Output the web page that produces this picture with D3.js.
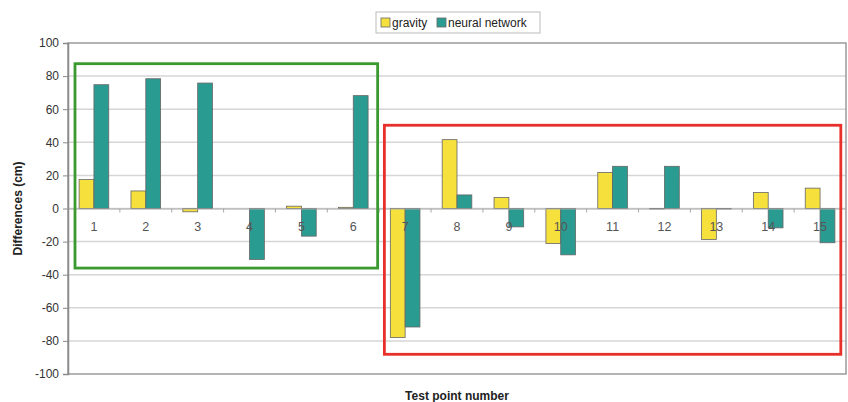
<!DOCTYPE html>
<html>
<head>
<meta charset="utf-8">
<script src="https://cdn.jsdelivr.net/npm/d3@7"></script>
<style>
html,body{margin:0;padding:0;background:#fff;}
svg{display:block;font-family:"Liberation Sans",Arial,sans-serif;}
</style>
</head>
<body>
<svg id="chart" width="848" height="402"></svg>
<script>
const categories = ["1","2","3","4","5","6","7","8","9","10","11","12","13","14","15"];
const gravity = [17.5, 10.6, -2, 0, 1.4, 0.7, -78, 41.6, 6.6, -21.1, 21.7, -0.3, -18.7, 9.7, 12.3];
const neuralNetwork = [74.8, 78.4, 75.8, -30.8, -16.7, 68.2, -71.6, 8.2, -11.1, -28, 25.5, 25.5, -0.3, -11.7, -20.7];
const seriesNames = ["gravity", "neural network"];
const yTicks = [100, 80, 60, 40, 20, 0, -20, -40, -60, -80, -100];
// annotation boxes in data units: category index span and value span
const boxes = [
  {x0: 0.135, x1: 5.97, y0: -36, y1: 87.5, color: "#3b9a2f"},
  {x0: 6.1, x1: 14.9, y0: -88.1, y1: 50.3, color: "#e8302a"}
];
const colors = ["#f6e03c", "#2a9b91"];

const svg = d3.select("#chart");
const m = {left: 68, right: 2, top: 43, bottom: 28};
const W = 848, H = 402;
const pw = W - m.left - m.right, ph = H - m.top - m.bottom;

const x = d3.scaleBand().domain(categories).range([m.left, m.left + pw]).paddingInner(0).paddingOuter(0);
const groupW = x.bandwidth() * 2 / 3.5;
const xs = d3.scaleBand().domain(seriesNames).range([0, groupW]);
const y = d3.scaleLinear().domain([-100, 100]).range([m.top + ph, m.top]);
const xc = d3.scaleLinear().domain([0, categories.length]).range([m.left, m.left + pw]);

// grid
svg.append("g").selectAll("line").data(yTicks.filter(d => d !== -100 && d !== 100)).join("line")
  .attr("x1", m.left).attr("x2", m.left + pw)
  .attr("y1", d => y(d)).attr("y2", d => y(d))
  .attr("stroke", "#d6d6d6").attr("stroke-width", 1.5);

// plot border
svg.append("rect").attr("x", m.left).attr("y", y(100)).attr("width", pw).attr("height", y(-100) - y(100))
  .attr("fill", "none").attr("stroke", "#9a9a9a").attr("stroke-width", 1.5);

// y axis
const yAxis = d3.axisLeft(y).tickValues(yTicks).tickFormat(d => String(d)).tickSize(5).tickPadding(4);
const gy = svg.append("g").attr("transform", `translate(${m.left},0)`).call(yAxis);
gy.select(".domain").attr("stroke", "#8a8a8a").attr("stroke-width", 1.5);
gy.selectAll(".tick line").attr("stroke", "#8a8a8a");
gy.selectAll("text").attr("font-size", 12).attr("fill", "#333").attr("font-family", "Liberation Sans, Arial, sans-serif");

// bars
const data = categories.map((c, i) => ({c, vals: [gravity[i], neuralNetwork[i]]}));
const groups = svg.append("g").selectAll("g").data(data).join("g")
  .attr("transform", d => `translate(${x(d.c) + (x.bandwidth() - groupW) / 2},0)`);
groups.selectAll("rect").data(d => d.vals.map((v, j) => ({v, s: seriesNames[j], j}))).join("rect")
  .attr("x", d => xs(d.s))
  .attr("width", xs.bandwidth())
  .attr("y", d => y(Math.max(0, d.v)))
  .attr("height", d => Math.abs(y(d.v) - y(0)))
  .attr("fill", d => colors[d.j])
  .attr("stroke", "#666").attr("stroke-width", 0.8);

// x axis at zero
const xAxis = d3.axisBottom(x).tickSize(0).tickPadding(14);
const gx = svg.append("g").attr("transform", `translate(0,${y(0)})`).call(xAxis);
gx.select(".domain").attr("stroke", "#aaa").attr("stroke-width", 1);
gx.selectAll("text").attr("font-size", 12.5).attr("fill", "#555").attr("font-family", "Liberation Sans, Arial, sans-serif");
svg.append("g").selectAll("line").data(d3.range(1, categories.length)).join("line")
  .attr("x1", d => xc(d)).attr("x2", d => xc(d))
  .attr("y1", y(0)).attr("y2", y(0) + 4)
  .attr("stroke", "#aaa");

// annotation boxes
svg.append("g").selectAll("rect").data(boxes).join("rect")
  .attr("x", d => xc(d.x0)).attr("y", d => y(d.y1))
  .attr("width", d => xc(d.x1) - xc(d.x0)).attr("height", d => y(d.y0) - y(d.y1))
  .attr("fill", "none").attr("stroke", d => d.color).attr("stroke-width", 2.8);

// axis titles
svg.append("text").attr("transform", `translate(22,${(y(100) + y(-100)) / 2}) rotate(-90)`)
  .attr("text-anchor", "middle").attr("font-size", 12).attr("font-weight", "bold").attr("fill", "#222")
  .text("Differences (cm)");
svg.append("text").attr("x", m.left + pw / 2).attr("y", 400)
  .attr("text-anchor", "middle").attr("font-size", 12).attr("font-weight", "bold").attr("fill", "#222")
  .text("Test point number");

// legend
const lg = svg.append("g").attr("transform", "translate(376,12)");
lg.append("rect").attr("x", 0).attr("y", 0).attr("width", 164).attr("height", 21)
  .attr("fill", "#fff").attr("stroke", "#bbb").attr("stroke-width", 1);
const items = [{n: seriesNames[0], x: 5}, {n: seriesNames[1], x: 61}];
items.forEach((it, i) => {
  lg.append("rect").attr("x", it.x).attr("y", 6).attr("width", 9).attr("height", 9)
    .attr("fill", colors[i]).attr("stroke", "#666").attr("stroke-width", 0.8);
  lg.append("text").attr("x", it.x + 11).attr("y", 15).attr("font-size", 12).attr("fill", "#222")
    .text(it.n);
});
</script>
</body>
</html>
